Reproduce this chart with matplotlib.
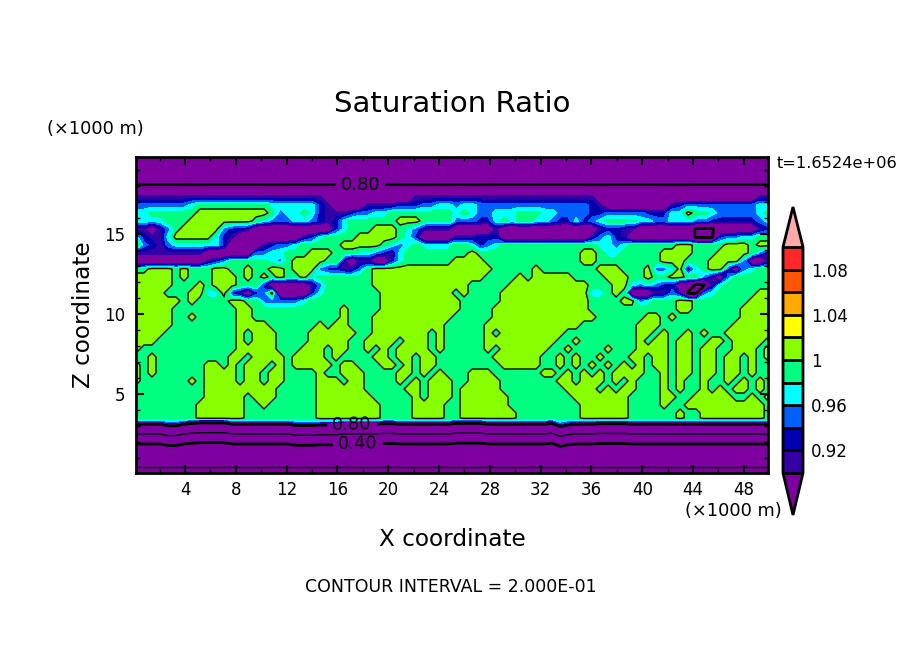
import numpy as np
import matplotlib
matplotlib.use("Agg")
import matplotlib.pyplot as plt
from matplotlib.colors import ListedColormap, BoundaryNorm

# saturation ratio classes, one letter per grid node
CLASS_VALUES = {"a": 0.10, "b": 0.30, "c": 0.50, "d": 0.70, "D": 0.79, "e": 0.85, "f": 0.91,
                "g": 0.93, "h": 0.95, "i": 0.97, "j": 0.99, "k": 1.01}

# heights of the grid rows in km, top to bottom
Z_KM = [19.81, 19.31, 18.81, 18.62, 17.81, 17.31, 16.81, 16.31, 15.81, 15.31, 14.81, 14.31,
        13.81, 13.31, 12.81, 12.31, 11.81, 11.31, 10.81, 10.31, 9.81, 9.31, 8.81, 8.31,
        7.81, 7.31, 6.81, 6.31, 5.81, 5.31, 4.81, 4.31, 3.81, 3.50, 3.31, 3.19, 2.94,
        2.06, 1.69, 0.81, 0.06]

# 80 columns, 41 rows
FIELD = [
    "d" * 80,
    "d" * 80,
    "d" * 80,
    "d" * 80,
    "e" * 80,
    "ffffffffff ffffffffff ffffeeeeee eeeeefffff ffffffffff ffffffffee eeeeeeeeee eeeeeeeeff",
    "hhhhhhhijj jjjjjjjiii iiigfeeeef fffggghhii hiihhhhhhh hhhhhhhgfe eeeeeeefgh hhhhhhhhii",
    "iijjjjjjkk kkkkkkkjhi ijigfffghh iijjjjjjjj ijihhiiijj jiihhhhggh hhhhgggiik jjihhhhhij",
    "iiiijjjkkk kkkkkjihhh iihgfgijjj jjjkkkjjjj hhhggijijj iihggighij jjjiihhiii hhgggggghi",
    "ffefhjkkkk khggfeeeee eeeeegijjj kkkjihffff eeeeefeeee eeeeeeeefg gffeeeeeee DDDeeeeefg",
    "igffikkkkk igfeeeeeee efgijjjjkk kkkjigeeee fffgggeeee eeeeeeefhi gfeeeeeeee DDDghhiijj",
    "khgfhiiiii igeeeefghh ijjjjjkkkk kjihijiiii jjighijjjj jjjjjjjjii hijjjjjjkk jjjjkkkjkk",
    "fffffffffe eeeeehhiij jjkkkjjjii hgfijjjjjj jjkjjjjjjj jjjjjjkkji ijjjjjkkkk jjjkkkkjhf",
    "eeeeeeeeef ghjjjjjihj kkkkjjfeff eegijjjjjj kkkkjjjjjj jjjjjjkkjj jjjjjjkkkj jjkkkkheef",
    "jjkkkjkjjj kkjjkjjkkj kkkhggffhj kkkkkkkkkk kkkkkjjjjj kjjjjjjjkk kjjjkhhikf ijkkgehijj",
    "kkkkkjkjjj kkkjkjkjkj jkijjjjjjj kkkkkkkkkk kkkkjjjjkj kkkkkjjjjk kkjjkjjkkj jhfehjjjjj",
    "kkkkkjjjkj kkkjjjgeee eefhjjjjjj kkkkkkkkkk kkjjjjjkkk kkkkkkkjjj kkihihggee DDfijjjjjj",
    "kkkkjjjkki ikgfeghkee eegijjjjjj jkkkkkkkkk jkjjjjkkkk kkkkkkkiij kjeeeffhfD Dhijjjjjkk",
    "kkkkkkjkjj jjkkjjhhhh hijjjjjjjj jkkkkkkkkk kjjjjjkkkk kkkkkkkjjj jkkhijjjkk jjjjjjjkkk",
    "kkkkkjjjjj jjjkkjjjjj jjjjjjkjjj jkkkkkkkkk kjjjjkkkkk kkkkkkkjjj jjjjjjjjkk jjjjjjkkkk",
    "kkkkkjjkjj jjjkkjjjjj jjjjjjkjjj kkkkkkkkkk jjjjjkkkkk kkkkkkkkjj jjjjkkjkjj jjjjjjkkkk",
    "kkkkkjjjjj jjjkkkkjjj jjjkjkkjjj kkkkkkkkkj jjjjkkkkkk kkkkkkjjjj jjjkkkjjjj jjjjjkkkkk",
    "kkkkjjjjjj jjjkjkkkjj jjkkkkkkjj kkkkkkkjkj jjjjkjkkkk kkkkjjjjjj jjjkkjkjjk jkjjkkkkkk",
    "kkkjjjjjjj jjjkjkkkjj jjkkkkkjjk kkkjkkkjkj jjjjkkkkkk kkkjjkjjjj jjjkjkkjkk jjkkjkkkkj",
    "kjjjjjjjjj jjjkkkkkjj jkkkjkkjjk jkjkkkkjkj jjjjkjkkkk kkjjkjjjjk jjjkkkkjkk jkkjjkkkjk",
    "jjkjjjjjjj jjkkjkkkkj kkkkjkjjjj kkjkkjkkjj jjjjjkkkkk kjjkjkjjkj jjkkjkkjkk jkkjkkjkjk",
    "kjkjjjjjjk kjkjkkkjkj kkkkkjkkjj jkkjkjkkjj jjjjjjkkkk kjjkjkjkjk jkjkjkkjkk jkkjkkjkjj",
    "kjkjjjjjjk kkkjkkjkkj jjjkjjkkkj jjjkkjkjkj jjkkkjjjjj jkkjkjkjkj kkkkjjkjkk jkkjkkjkjj",
    "kjjjjjjkjk kkkjkkjkkj jjjkkkjkkj jjjkjkjkkk jjkkkkjjjj jjjkkjkkkj kjkjjjkjkj jkjjkjkjkj",
    "jjjjjjjjjk kkkkkkkkjj jjjkkkkkkj jjjjkkjkkk jkkkkkjjjj jjjjkkkkjk jkkjjjkjkj jkjkjkkjkj",
    "jjjjjjjjjk kkkkjkkkjj jjjkkkkkkk jjjjjkjkkk jkkkkkkjjj jjjjjkkkkk kkjjjjkkjj kkkkkjjkjk",
    "jjjjjjjjkk kkkkjjkjjj jjjkkkkkkk kjjjjkkkkj jkkkkkkjjj jjjjjjkkkk kkjjjjkjjk kkkkkkkkkj",
    "jjjjjjjjkk kkkkjjjjjj jjjkkkkkkk kjjjjkkkkj jkkkkkkkjj jjjjjjkkkk kkjjjjjjkj jkkkkkkkkj",
    "jjjjjjjjkk kkkkjjjjjj jjjkkkkkkk kjjjjkkkkj jkkkkkkkjj jjjjjjkkkk kkjjjjjjkj jkkkkkkkkj",
    "h" * 80,
    "e" * 80,
    "d" * 80,
    "c" * 80,
    "b" * 80,
    "b" * 80,
    "a" * 80,
]

# vertical wobble of the dry lower layer in km, one per column
LAYER_RIPPLE = [0, 0, 0, 0, -.1, -.1, 0, .05, .08, .08,
                .08, .08, 0, 0, 0, 0, 0, 0, 0, 0,
                -.08, -.08, -.08, -.05, -.05, -.05, 0, 0, 0, 0,
                0, .03, .03, 0, 0, 0, 0, 0, 0, 0,
                .05, .05, .05, .05, 0, 0, 0, 0, 0, 0,
                0, 0, .05, -.15, -.05, 0, 0, 0, .03, .03,
                .03, .03, 0, 0, 0, 0, 0, 0, 0, 0,
                0, 0, 0, 0, 0, 0, 0, 0, 0, 0]

LEVELS = [0.90, 0.92, 0.94, 0.96, 0.98, 1.00, 1.02, 1.04, 1.06, 1.08, 1.10]
THIN_LEVELS = [0.2, 0.6, 1.0]
LABELLED_LEVELS = [0.4, 0.8]
BAND_COLORS = ["#3300a8", "#0000b0", "#0060ff", "#00ffff", "#00ff80", "#88ff00",
               "#ffff00", "#ffaa00", "#ff5500", "#ff2828"]
UNDER_COLOR = "#7f00a0"
OVER_COLOR = "#ffaaaa"
COLORBAR_TICKS = [0.92, 0.96, 1.00, 1.04, 1.08]
COLORBAR_LABELS = ["0.92", "0.96", "1", "1.04", "1.08"]
X_TICKS = [4, 8, 12, 16, 20, 24, 28, 32, 36, 40, 44, 48]
Z_TICKS = [5, 10, 15]

W, H = 904, 654

rows = [r.replace(" ", "") for r in FIELD]
sr = np.array([[CLASS_VALUES[c] for c in r] for r in rows])
x_km = 0.14 + np.arange(80) * 0.63
xx, zz = np.meshgrid(x_km, np.array(Z_KM))
# only the rows inside the dry layer follow the ripple
zz[34:39, :] += np.array(LAYER_RIPPLE)

cmap = ListedColormap(BAND_COLORS)
cmap.set_under(UNDER_COLOR)
cmap.set_over(OVER_COLOR)
norm = BoundaryNorm(LEVELS, cmap.N)

fig = plt.figure(figsize=(W / 100, H / 100), dpi=100)
ax = fig.add_axes([136 / W, 1 - 473 / H, 632 / W, 316 / H])

filled = ax.contourf(xx, zz, sr, levels=LEVELS, cmap=cmap, norm=norm, extend="both")
ax.contour(xx, zz, sr, levels=THIN_LEVELS, colors="black", linewidths=1.0)
lines = ax.contour(xx, zz, sr, levels=LABELLED_LEVELS, colors="black", linewidths=2.0)
ax.set_xlim(0.14, 49.9)
ax.set_ylim(0.06, 19.81)
ax.clabel(lines, fmt={0.4: "0.40", 0.8: "0.80"}, fontsize=13, inline=True, inline_spacing=5,
          manual=[(17.8, 18.3), (17.15, 3.0), (17.6, 1.8)])

ax.set_xticks(X_TICKS)
ax.set_xticks(range(2, 50, 2), minor=True)
ax.set_yticks(Z_TICKS)
ax.set_yticks(range(1, 20), minor=True)
ax.tick_params(which="major", direction="in", top=True, right=True, length=6, width=1.5,
               labelsize=12)
ax.tick_params(axis="x", which="major", pad=6)
ax.tick_params(axis="y", which="major", pad=8)
ax.tick_params(which="minor", direction="in", top=True, right=True, length=3, width=1)
for side in ax.spines.values():
    side.set_linewidth(2)


def put(px, py, text, **kw):
    fig.text(px / W, 1 - py / H, text, **kw)


put(452, 104, "Saturation Ratio", ha="center", va="center", fontsize=21)
put(47, 129, "(\u00d71000 m)", ha="left", va="center", fontsize=12.8)
put(685, 511, "(\u00d71000 m)", ha="left", va="center", fontsize=12.8)
put(777, 163, "t=1.6524e+06", ha="left", va="center", fontsize=11.7)
put(452, 539, "X coordinate", ha="center", va="center", fontsize=16.7)
put(83, 315, "Z coordinate", ha="center", va="center", rotation=90, fontsize=16.7)
put(451, 587, "CONTOUR INTERVAL = 2.000E-01", ha="center", va="center", fontsize=12.5)

cax = fig.add_axes([783 / W, 1 - 515 / H, 20 / W, 308 / H])
cb = fig.colorbar(filled, cax=cax, ticks=COLORBAR_TICKS, drawedges=True, extendfrac=[0.186, 0.177])
cb.ax.set_yticklabels(COLORBAR_LABELS)
cb.ax.tick_params(which="both", length=0, labelsize=12, pad=6)
cb.outline.set_linewidth(2)
cb.dividers.set_linewidth(2)
cb.dividers.set_color("black")

fig.savefig("out.png", dpi=100)
